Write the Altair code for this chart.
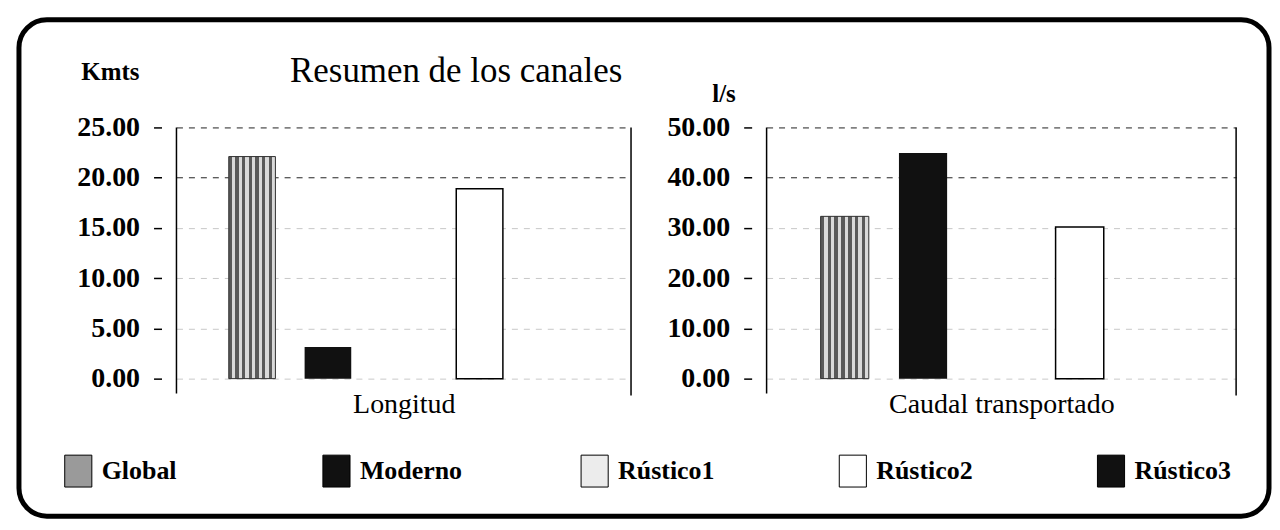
import altair as alt
import pandas as pd

categories = ["Global", "Moderno", "Rústico1", "Rústico2", "Rústico3"]
longitud_km = [22.1, 3.15, 0.0, 18.9, 0.0]
caudal_ls = [32.3, 44.9, 0.0, 30.2, 0.0]
left_ticks = [0, 5, 10, 15, 20, 25]
right_ticks = [0, 10, 20, 30, 40, 50]
fill_colors = ["#9a9a9a", "#111111", "#ececec", "#ffffff", "#111111"]
chart_title = "Resumen de los canales"

SERIF = "Liberation Serif"
H = 252

df_left = pd.DataFrame({"categoria": categories, "valor": longitud_km})
df_right = pd.DataFrame({"categoria": categories, "valor": caudal_ls})

stops = []
n = 14
for i in range(n):
    c = "#5a5a5a" if i % 2 == 0 else "#dadada"
    stops.append(alt.GradientStop(offset=i / n, color=c))
    stops.append(alt.GradientStop(offset=(i + 1) / n, color=c))
stripes = alt.LinearGradient(gradient="linear", stops=stops, x1=0, x2=1, y1=0, y2=0)

one = alt.Data(values=[{}])


def panel(df, width, ymax, ticks, xtitle, ytitle, tx, ty, strong, frame=False):
    xenc = alt.X(
        "categoria:N", sort=categories,
        scale=alt.Scale(paddingInner=0.385, paddingOuter=0.69),
        axis=alt.Axis(labels=False, ticks=False, domain=False, title=xtitle,
                      titleFont=SERIF, titleFontSize=28, titleFontWeight="normal",
                      titleColor="black", titlePadding=12),
    )
    yenc = alt.Y(
        "valor:Q", scale=alt.Scale(domain=[0, ymax], nice=False),
        axis=alt.Axis(values=ticks, format=".2f", offset=15, domain=False,
                      tickSize=8, tickColor="black", tickWidth=1.5,
                      labelFont=SERIF, labelFontSize=28, labelFontWeight="bold",
                      labelColor="black", labelPadding=14,
                      grid=True, gridDash=[6, 6], gridColor="#222", gridWidth=1,
                      gridOpacity={"condition": {"test": f"datum.value >= {strong}", "value": 1}, "value": 0.25},
                      title=ytitle, titleAngle=0, titleAlign="left", titleBaseline="alphabetic",
                      titleX=tx, titleY=ty, titleFont=SERIF, titleFontSize=25,
                      titleFontWeight="bold", titleColor="black"),
    )
    color = alt.Color(
        "categoria:N", sort=categories,
        scale=alt.Scale(domain=categories, range=fill_colors),
        legend=alt.Legend(orient="none", legendX=-115, legendY=328, direction="horizontal",
                          columns=5, gridAlign="all", columnPadding=116, title=None,
                          symbolType="M-0.85,-1H0.85V1H-0.85Z", symbolSize=1024,
                          symbolStrokeColor="black", symbolStrokeWidth=1, symbolOpacity=1,
                          labelFont=SERIF, labelFontSize=26, labelFontWeight="bold",
                          labelColor="black", labelOffset=7, labelLimit=0, padding=0),
    )
    base = alt.Chart(df)
    bars = base.mark_bar(opacity=1).encode(
        x=xenc, y=yenc, color=color,
        stroke=alt.condition("datum.categoria == 'Rústico2'", alt.value("black"), alt.value("transparent")),
        strokeWidth=alt.value(1.5),
    )
    glob = base.transform_filter("datum.categoria == 'Global'").mark_bar(
        color=stripes, stroke="#333", strokeWidth=1, opacity=1
    ).encode(x=alt.X("categoria:N", sort=categories), y="valor:Q")
    left_rule = alt.Chart(one).mark_rule(color="black", strokeWidth=1.5).encode(
        x=alt.value(0), y=alt.value(0), y2=alt.value(H + 15))
    right_rule = alt.Chart(one).mark_rule(color="black", strokeWidth=1.5).encode(
        x=alt.value(width), y=alt.value(0), y2=alt.value(H + 17))
    layers = [bars, glob, left_rule, right_rule]
    if frame:
        layers.append(alt.Chart(one).mark_rect(filled=False, stroke="black", strokeWidth=5,
                                               cornerRadius=28).encode(
            x=alt.value(-158), x2=alt.value(1096), y=alt.value(-108), y2=alt.value(390)))
        layers.append(alt.Chart(alt.Data(values=[{"t": chart_title}])).mark_text(
            font=SERIF, fontSize=35, align="left", baseline="alphabetic", color="black"
        ).encode(text="t:N", x=alt.value(114), y=alt.value(-46)))
    return alt.layer(*layers).properties(width=width, height=H)


left = panel(df_left, 456, 25, left_ticks, "Longitud", "Kmts", -81, -48, 20, frame=True)
right = panel(df_right, 471, 50, right_ticks, "Caudal transportado", "l/s", -40, -26, 40)

chart = alt.hconcat(left, right, spacing=136, bounds="flush").properties(
    padding={"left": 8, "top": 8, "right": 0, "bottom": 0},
    background="white",
).configure_view(stroke=None)

chart.save("out.html", embed_options={"renderer": "svg", "actions": False})
